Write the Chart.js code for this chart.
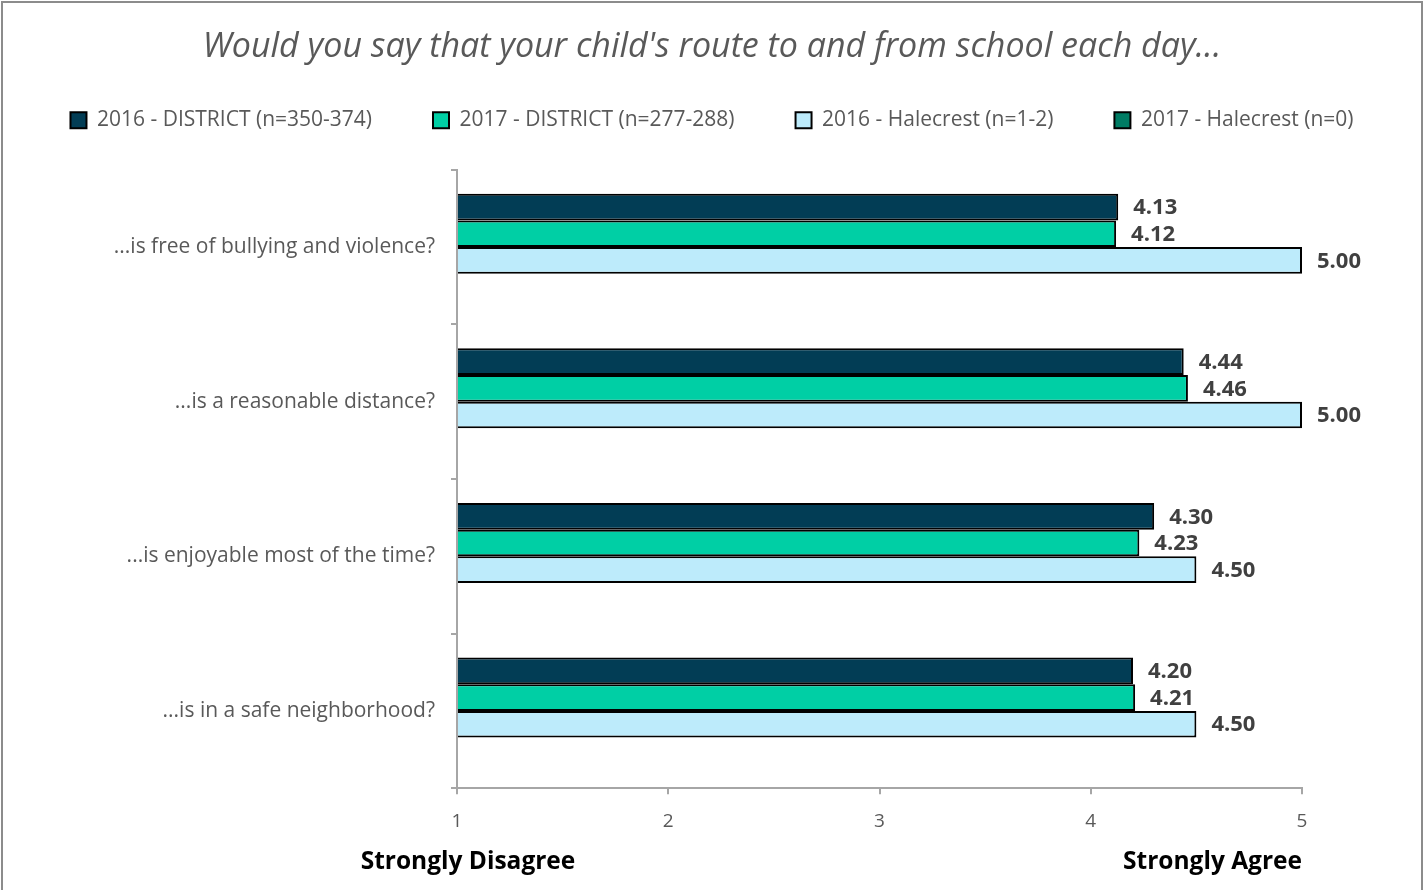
<!DOCTYPE html>
<html>
<head>
<meta charset="utf-8">
<script src="https://cdn.jsdelivr.net/npm/chart.js@4/dist/chart.umd.min.js"></script>
<style>
  html, body { margin: 0; padding: 0; background: #fff; }
  #wrap { width: 1424px; height: 890px; }
</style>
</head>
<body>
<div id="wrap"><canvas id="resultChart"></canvas></div>
<script>
var categories = [
    '...is free of bullying and violence?',
    '...is a reasonable distance?',
    '...is enjoyable most of the time?',
    '...is in a safe neighborhood?'
];
var district2016 = [4.13, 4.44, 4.30, 4.20];
var district2017 = [4.12, 4.46, 4.23, 4.21];
var halecrest2016 = [5.00, 5.00, 4.50, 4.50];
var halecrest2017 = [null, null, null, null];
var xTicks = [1, 2, 3, 4, 5];

var FONT = '"Open Sans"';

// frame round the whole chart
var framePlugin = {
    id: 'frame',
    beforeDraw: function (chart) {
        var c = chart.ctx;
        c.save();
        c.fillStyle = '#fff';
        c.fillRect(0, 0, chart.width, chart.height);
        c.strokeStyle = '#8c8c8c';
        c.lineWidth = 2;
        c.strokeRect(2, 2, chart.width - 4, chart.height + 10);
        c.restore();
    }
};

// value labels at the end of each bar + bottom captions
var labelPlugin = {
    id: 'barLabels',
    afterDatasetsDraw: function (chart) {
        var c = chart.ctx;
        c.save();
        c.font = 'bold 22px ' + FONT;
        c.fillStyle = '#404040';
        c.textBaseline = 'middle';
        c.textAlign = 'left';
        chart.data.datasets.forEach(function (ds, i) {
            var meta = chart.getDatasetMeta(i);
            meta.data.forEach(function (bar, j) {
                var v = ds.data[j];
                if (v === null || v === undefined) return;
                c.fillText(v.toFixed(2), bar.x + 15, bar.y + 1);
            });
        });
        var xs = chart.scales.x;
        c.font = 'bold 24.5px ' + FONT;
        c.fillStyle = '#000';
        c.textAlign = 'center';
        c.fillText('Strongly Disagree', xs.getPixelForValue(1) + 11, 862);
        c.textAlign = 'right';
        c.fillText('Strongly Agree', xs.getPixelForValue(5), 862);
        c.restore();
    }
};

var ctx = document.getElementById('resultChart');
var myBarChart = new Chart(ctx, {
    type: 'bar',
    data: {
        labels: categories,
        datasets: [{
            label: '2016 - DISTRICT (n=350-374)',
            data: district2016,
            backgroundColor: '#023d55',
            borderColor: '#000',
            borderWidth: 2,
        }, {
            label: '2017 - DISTRICT (n=277-288)',
            data: district2017,
            backgroundColor: '#00cfa5',
            borderColor: '#000',
            borderWidth: 2,
        }, {
            label: '2016 - Halecrest (n=1-2)',
            data: halecrest2016,
            backgroundColor: '#bdebfb',
            borderColor: '#000',
            borderWidth: 2,
        }, {
            label: '2017 - Halecrest (n=0)',
            data: halecrest2017,
            backgroundColor: '#007c64',
            borderColor: '#000',
            borderWidth: 2,
        }]
    },
    plugins: [framePlugin, labelPlugin],
    options: {
        indexAxis: 'y',
        responsive: true,
        maintainAspectRatio: false,
        animation: false,
        base: 1,
        barPercentage: 1,
        categoryPercentage: 0.69,
        layout: {
            padding: { left: 0, right: 0, top: 0, bottom: 41 }
        },
        plugins: {
            title: {
                display: true,
                text: "Would you say that your child's route to and from school each day...",
                color: '#595959',
                font: { family: FONT, size: 34, style: 'italic', weight: 'normal' },
                padding: { top: 27, bottom: -19 }
            },
            legend: {
                display: true,
                labels: {
                    color: '#595959',
                    font: { family: FONT, size: 21 },
                    boxWidth: 16,
                    boxHeight: 16,
                    padding: 61
                }
            },
            tooltip: { enabled: false }
        },
        scales: {
            x: {
                min: 1,
                max: 5,
                afterBuildTicks: function (axis) {
                    axis.ticks = xTicks.map(function (v) { return { value: v }; });
                },
                border: { color: '#a6a6a6', width: 2 },
                grid: { drawOnChartArea: false, color: '#a6a6a6', lineWidth: 2, tickLength: 6 },
                ticks: {
                    color: '#595959',
                    font: { family: FONT, size: 19 },
                    padding: 16
                }
            },
            // empty top axis, keeps the gap under the legend
            xTop: {
                type: 'linear',
                position: 'top',
                ticks: { display: false },
                grid: { display: false },
                border: { display: false },
                afterFit: function (axis) {
                    axis.height = 29;
                }
            },
            y: {
                border: { color: '#a6a6a6', width: 2 },
                grid: { drawOnChartArea: false, color: '#a6a6a6', lineWidth: 2, tickLength: 6 },
                ticks: {
                    color: '#595959',
                    font: { family: FONT, size: 21 },
                    padding: 16
                },
                afterFit: function (axis) {
                    axis.width = 457;
                }
            },
            // empty right-hand axis, only keeps room for the value labels
            yRight: {
                type: 'category',
                position: 'right',
                ticks: { display: false },
                grid: { display: false },
                border: { display: false },
                afterFit: function (axis) {
                    axis.width = 122;
                }
            }
        }
    }
});
</script>
</body>
</html>
